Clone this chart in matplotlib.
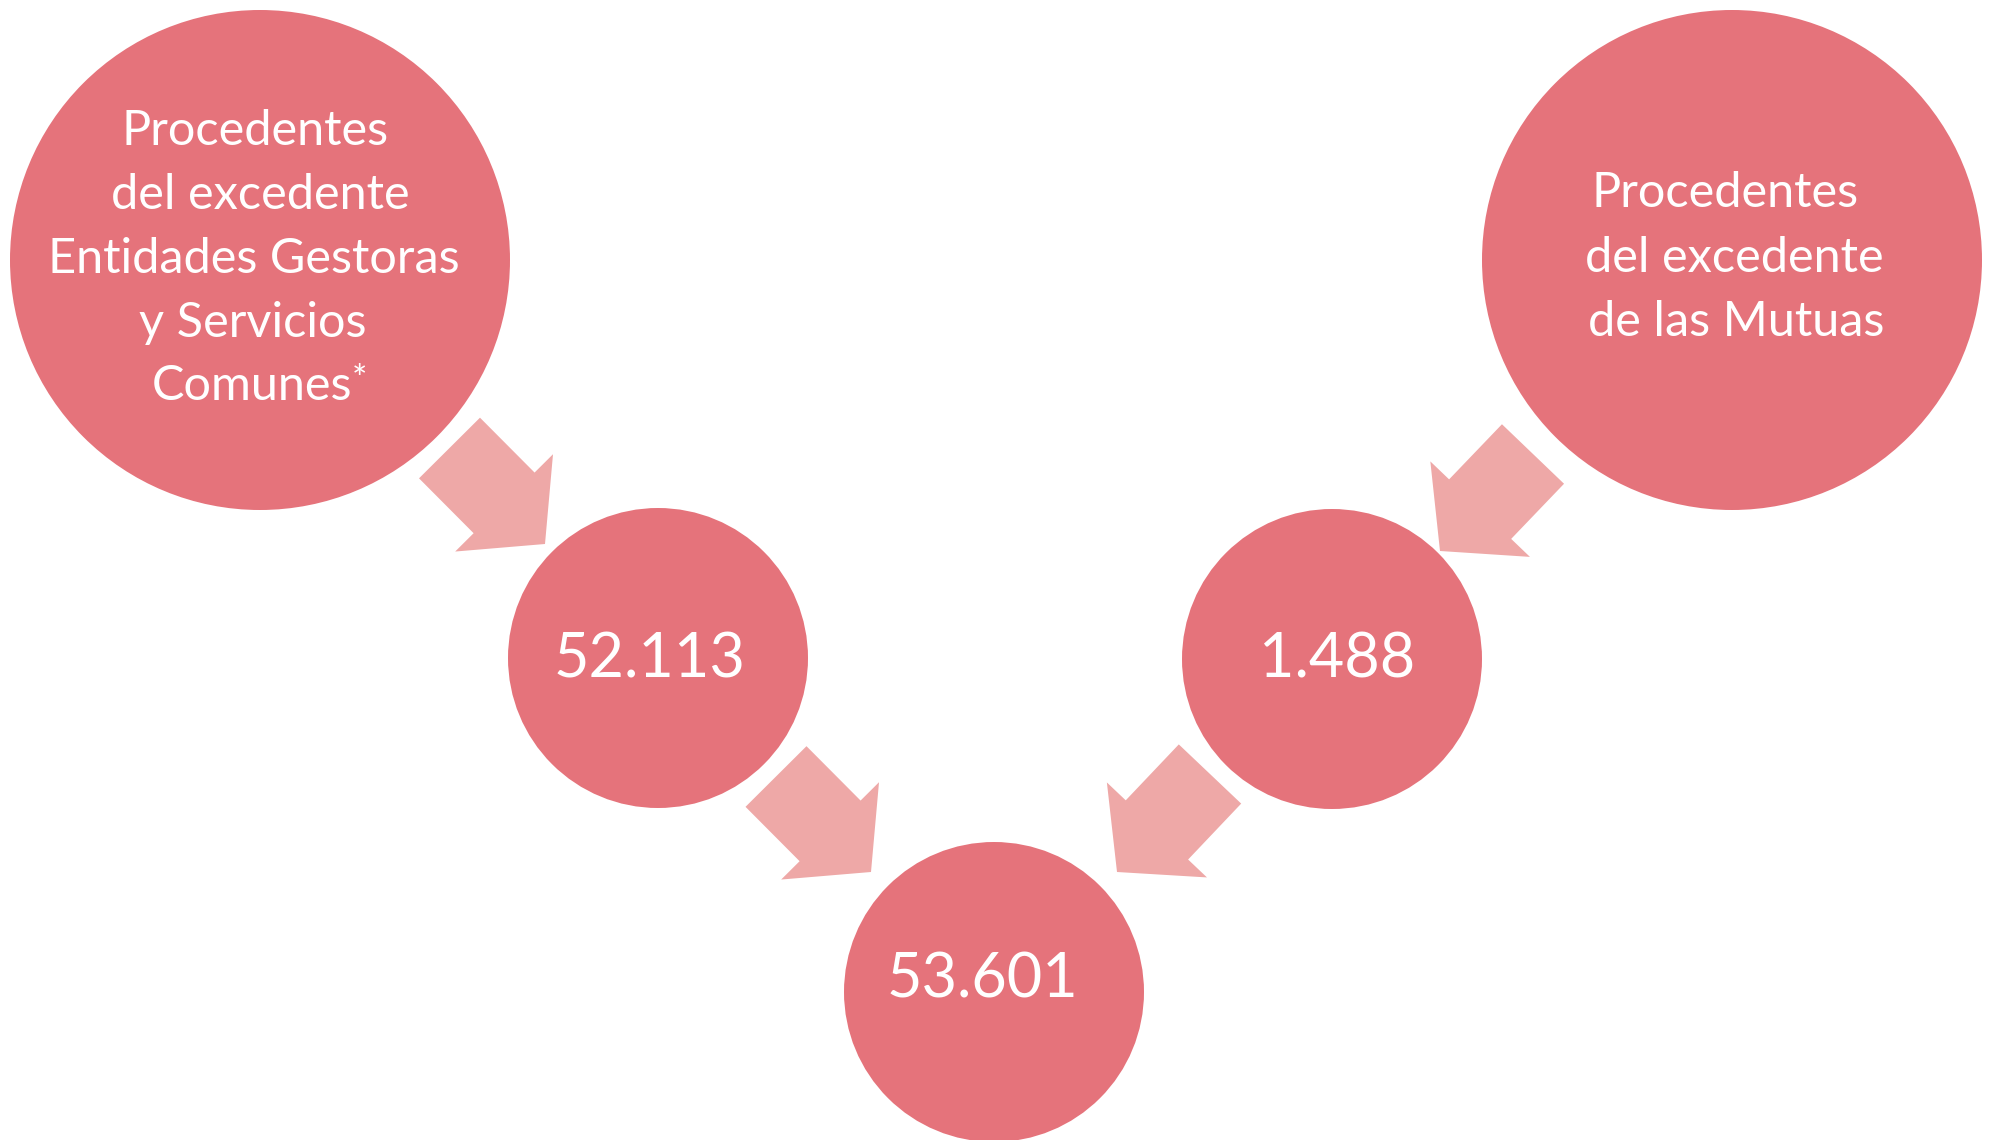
import matplotlib
matplotlib.use("Agg")
import matplotlib.pyplot as plt
from matplotlib.patches import Circle, FancyArrow

# ---- data ----
left_label_lines = ["Procedentes", "del excedente", "Entidades Gestoras", "y Servicios", "Comunes"]
right_label_lines = ["Procedentes", "del excedente", "de las Mutuas"]
source_values = ["52.113", "1.488"]
total_value = "53.601"

# ---- layout (pixels, figure space) ----
W, H = 1990, 1140
circle_color = "#E5737B"
arrow_color = "#EEA8A7"
big_r, small_r = 250, 150
big_centers = [(260, 260), (1732, 260)]
mid_centers = [(658, 658), (1332, 659)]
bottom_center = (994, 992)
arrows = [((449.5, 448), (545, 544)), ((776, 776.5), (871, 872)),
          ((1533, 454), (1440, 551)), ((1210, 774), (1117, 872))]
left_line_x = [255, 260, 254, 253, 252]
left_baselines = [145, 209, 273, 337, 400]
right_line_x = [1725, 1734, 1736]
right_baselines = [207, 272, 336]
value_pos = [(650, 677), (1337, 677)]
total_pos = (982, 997)

fig = plt.figure(figsize=(W / 100, H / 100), dpi=100)
ax = fig.add_axes([0, 0, 1, 1])
ax.set_xlim(0, W)
ax.set_ylim(H, 0)
ax.set_aspect("equal")
ax.axis("off")

font = "Lato"
label_fs = 35
value_fs = 44

for c in big_centers:
    ax.add_patch(Circle(c, big_r, color=circle_color, lw=0))
for c in mid_centers:
    ax.add_patch(Circle(c, small_r, color=circle_color, lw=0))
ax.add_patch(Circle(bottom_center, small_r, color=circle_color, lw=0))

for (x0, y0), (x1, y1) in arrows:
    ax.add_patch(FancyArrow(x0, y0, x1 - x0, y1 - y0, width=86, head_width=138,
                            head_length=58, length_includes_head=True,
                            color=arrow_color, lw=0))

last = None
for line, x, y in zip(left_label_lines, left_line_x, left_baselines):
    last = ax.text(x, y, line, ha="center", va="baseline", color="white",
                   fontsize=label_fs, family=font)
ax.annotate("*", xy=(1, 1), xycoords=last, xytext=(0, 0), textcoords="offset points",
            ha="left", va="top", color="white", fontsize=26, family=font)

for line, x, y in zip(right_label_lines, right_line_x, right_baselines):
    ax.text(x, y, line, ha="center", va="baseline", color="white",
            fontsize=label_fs, family=font)

for (x, y), v in zip(value_pos, source_values):
    ax.text(x, y, v, ha="center", va="baseline", color="white",
            fontsize=value_fs, family=font)
ax.text(total_pos[0], total_pos[1], total_value, ha="center", va="baseline",
        color="white", fontsize=value_fs, family=font)

fig.savefig("out.png", dpi=100, facecolor="white")
